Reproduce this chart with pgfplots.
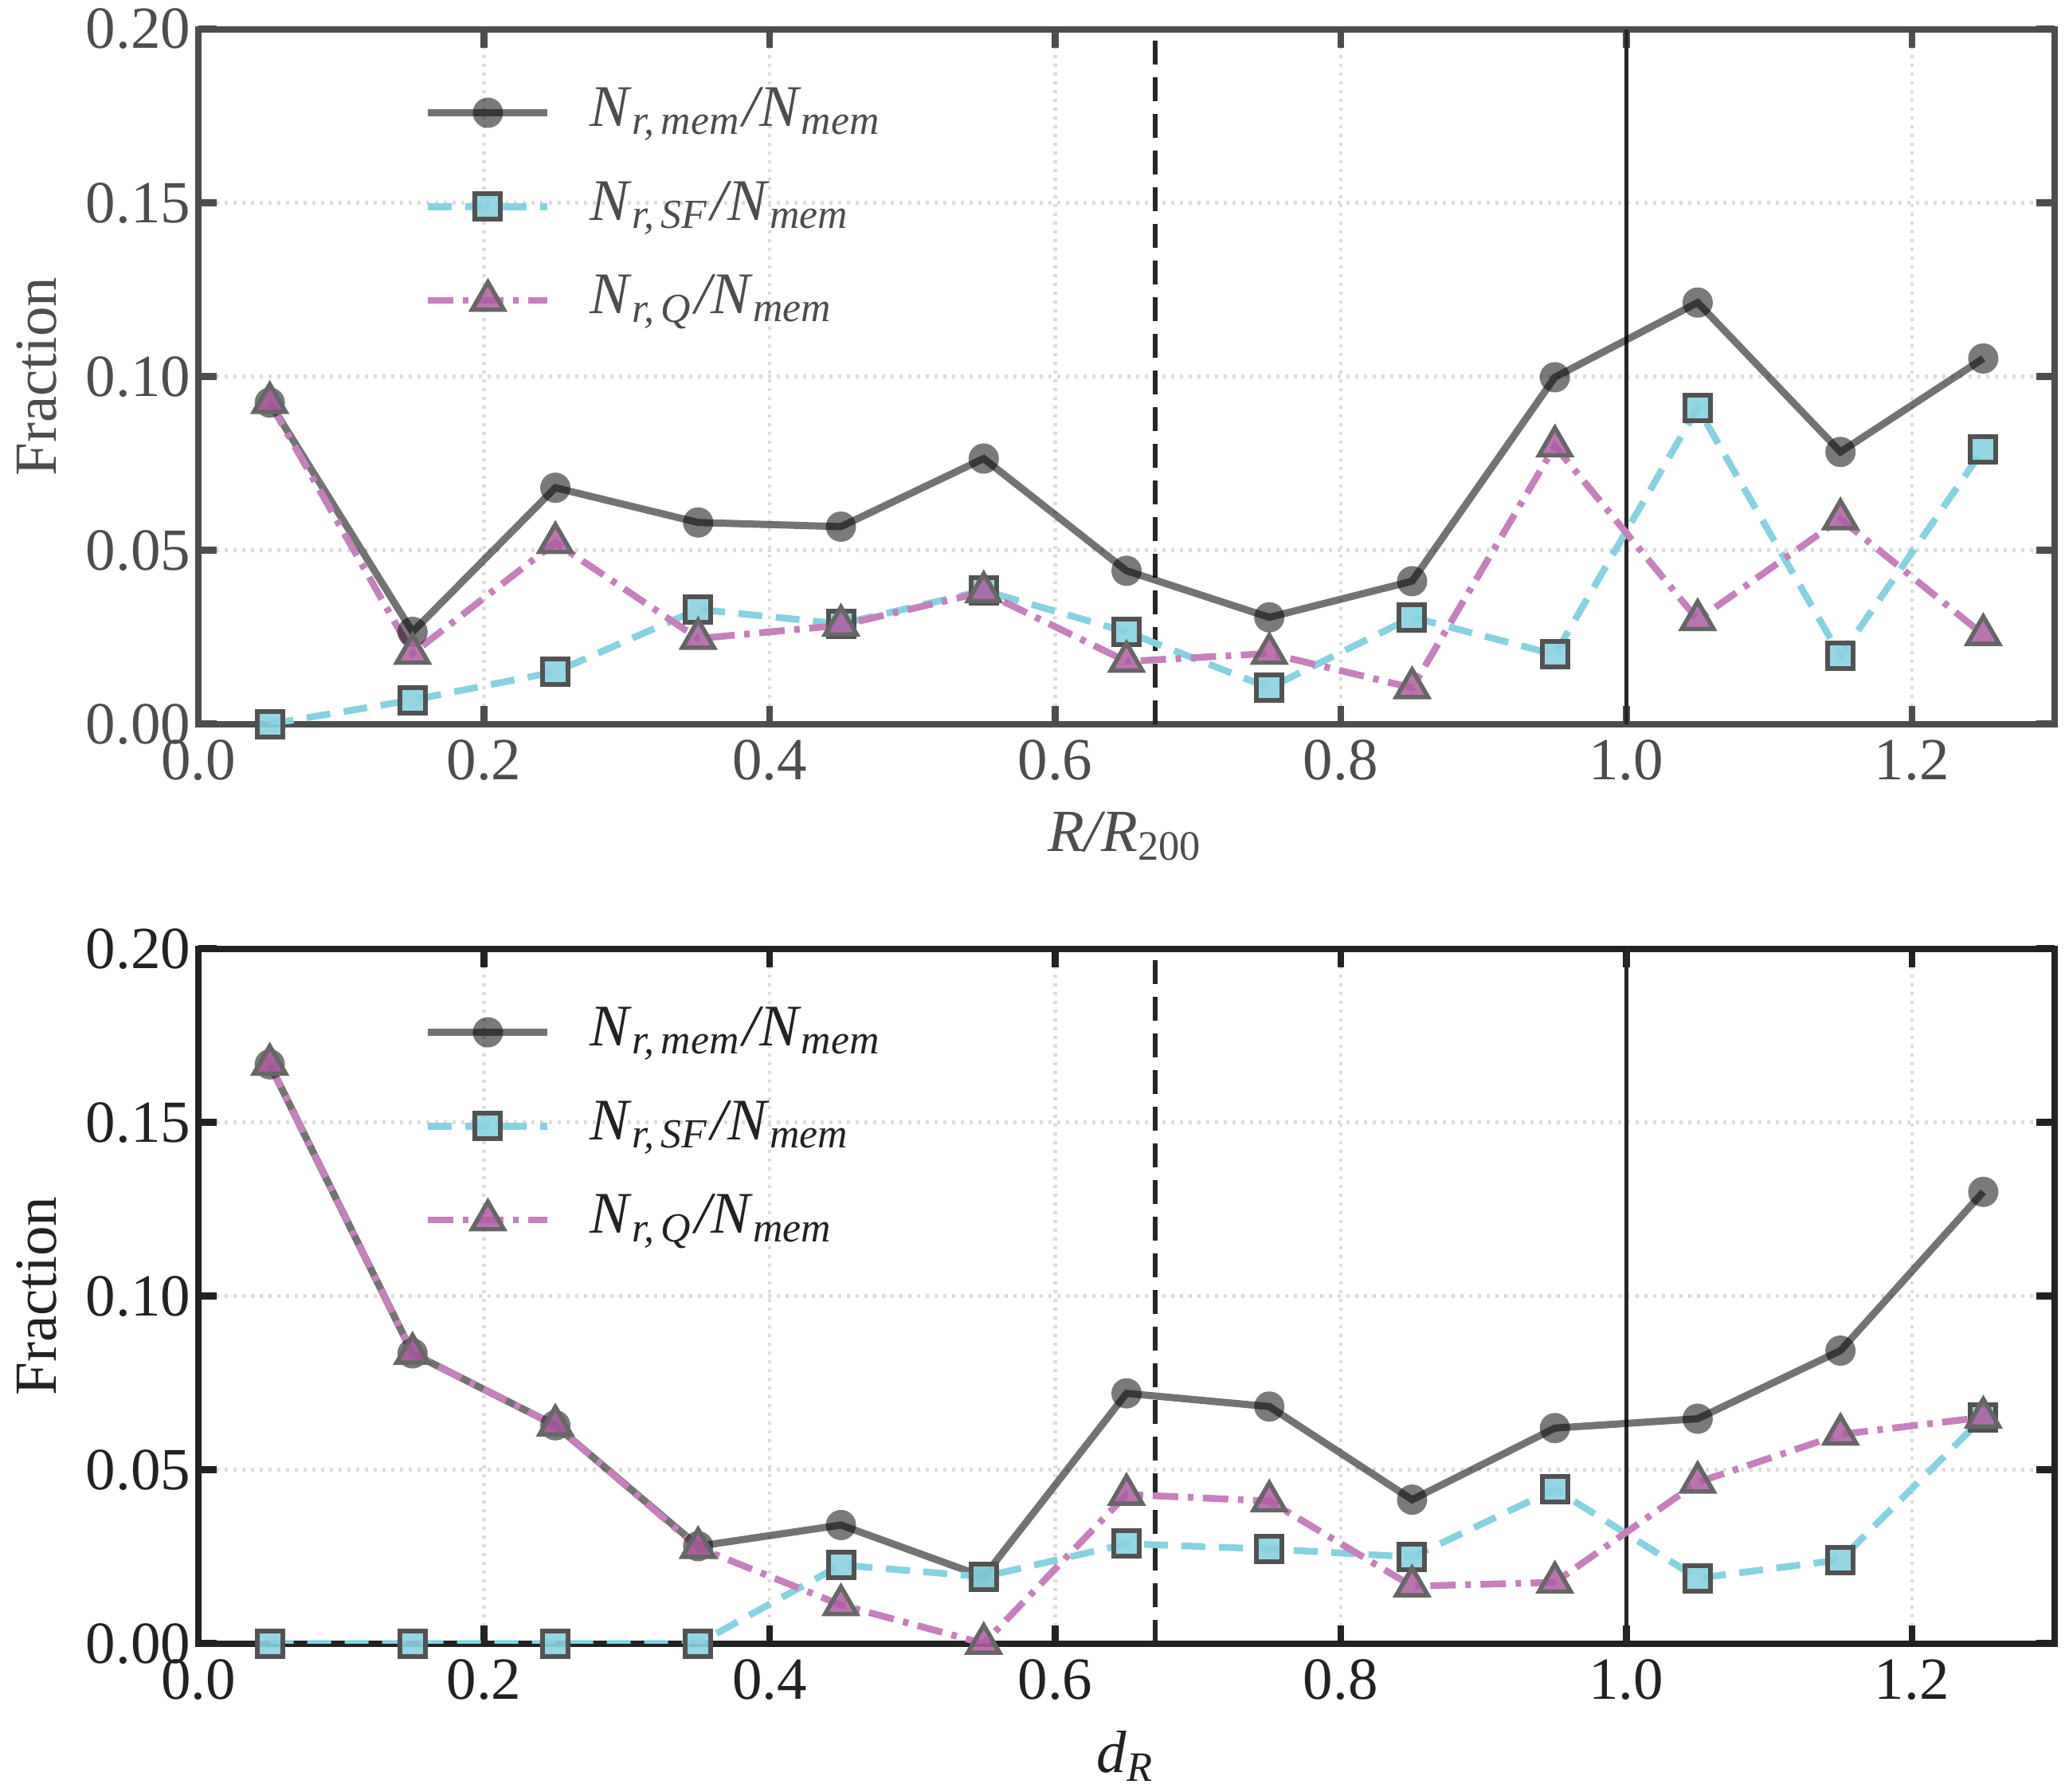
\documentclass[border=0pt]{standalone}
\usepackage{fontspec}
\setmainfont{Liberation Serif}
\usepackage{pgfplots}
\pgfplotsset{compat=1.18}

\definecolor{frameA}{HTML}{4D4D4D}
\definecolor{frameB}{HTML}{222222}
\definecolor{gridc}{HTML}{DCDCDC}
\definecolor{sfc}{HTML}{86D2E0}
\definecolor{sfm}{HTML}{88D2E0}
\definecolor{qc}{HTML}{C680BC}
\definecolor{qm}{HTML}{B05CA3}

\pgfplotsset{
  fracaxis/.style={
    scale only axis, width=233pt, height=87.2pt,
    xmin=0, xmax=1.3, ymin=0, ymax=0.2,
    xtick={0,0.2,0.4,0.6,0.8,1.0,1.2},
    ytick={0,0.05,0.1,0.15,0.2},
    xticklabel style={inner ysep=1.8pt, /pgf/number format/.cd, fixed, fixed zerofill, precision=1},
    yticklabel style={inner ysep=0pt, inner xsep=0.8pt, /pgf/number format/.cd, fixed, fixed zerofill, precision=2},
    /pgf/number format/assume math mode=true,
    tick align=inside, major tick length=2.3pt,
    tick style={line width=0.85pt, color=#1},
    axis line style={line width=0.8pt, color=#1},
    tick label style={text=#1},
    label style={text=#1},
    grid=major, grid style={line width=0.45pt, gridc, dash pattern=on 0.4pt off 0.7pt},
    ylabel=Fraction,
    ylabel style={at={(axis description cs:-0.087,0.5)}, anchor=center},
    xlabel style={at={(axis description cs:0.5,-0.162)}, anchor=center},
    font=\fontsize{7.5}{9}\selectfont,
    legend style={draw=none, fill=none, text=#1, inner sep=0pt,
      at={(axis description cs:0.121,0.93)}, anchor=north west,
      row sep=3.4pt, column sep=3.9pt, nodes={inner sep=1pt},
      font=\fontsize{7.4}{9}\selectfont},
    legend cell align=left,
    legend image code/.code={\draw[mark repeat=2,mark phase=2]
      plot coordinates {(0pt,0pt) (7.5pt,0pt) (15pt,0pt)};},
  },
  memplot/.style={black, draw opacity=0.55, line width=0.9pt, mark=*,
    mark size=1.9pt, mark options={solid, fill=black, draw opacity=0, fill opacity=0.52}},
  sfplot/.style={sfc, line width=0.85pt, dash pattern=on 3pt off 1.7pt, mark=square*,
    mark size=1.6pt, mark options={solid, fill=sfm, fill opacity=0.9, draw=black!68, line width=0.6pt}},
  qplot/.style={qc, line width=0.85pt, dash pattern=on 3.2pt off 1.2pt on 0.7pt off 1.2pt,
    mark=triangle*, mark size=2.3pt,
    mark options={solid, fill=qm, fill opacity=0.85, draw=black!60, line width=0.55pt}},
}

\newcommand{\legmem}{\textit{N}\textsubscript{\textit{r,\,mem}}\textit{/N}\textsubscript{\textit{mem}}}
\newcommand{\legsf}{\textit{N}\textsubscript{\textit{r,\,SF}}\textit{/N}\textsubscript{\textit{mem}}}
\newcommand{\legq}{\textit{N}\textsubscript{\textit{r,\,Q}}\textit{/N}\textsubscript{\textit{mem}}}

\begin{document}
\begin{tikzpicture}
% R/R200
\begin{axis}[fracaxis=frameA, at={(0pt,0pt)},
    xlabel={\textit{R/R}\textsubscript{200}}]
  \addplot[black!85, line width=0.55pt, dash pattern=on 3pt off 1.6pt, forget plot]
    coordinates {(0.67,0) (0.67,0.2)};
  \addplot[black!85, line width=0.55pt, forget plot]
    coordinates {(1.0,0) (1.0,0.2)};
  \addplot[memplot] coordinates {
    (0.05,0.0925) (0.15,0.0265) (0.25,0.0680) (0.35,0.0580) (0.45,0.0568)
    (0.55,0.0764) (0.65,0.0441) (0.75,0.0307) (0.85,0.0411) (0.95,0.0998)
    (1.05,0.1213) (1.15,0.0783) (1.25,0.1052)};
  \addlegendentry{\legmem}
  \addplot[sfplot] coordinates {
    (0.05,0.0000) (0.15,0.0069) (0.25,0.0150) (0.35,0.0330) (0.45,0.0288)
    (0.55,0.0384) (0.65,0.0265) (0.75,0.0104) (0.85,0.0307) (0.95,0.0200)
    (1.05,0.0910) (1.15,0.0196) (1.25,0.0790)};
  \addlegendentry{\legsf}
  \addplot[qplot] coordinates {
    (0.05,0.0925) (0.15,0.0203) (0.25,0.0522) (0.35,0.0246) (0.45,0.0284)
    (0.55,0.0380) (0.65,0.0180) (0.75,0.0203) (0.85,0.0104) (0.95,0.0800)
    (1.05,0.0300) (1.15,0.0590) (1.25,0.0257)};
  \addlegendentry{\legq}
\end{axis}
% d_R
\begin{axis}[fracaxis=frameB, at={(0pt,-115.4pt)},
    xlabel={\textit{d}\textsubscript{\textit{R}}}]
  \addplot[black!85, line width=0.55pt, dash pattern=on 3pt off 1.6pt, forget plot]
    coordinates {(0.67,0) (0.67,0.2)};
  \addplot[black!85, line width=0.55pt, forget plot]
    coordinates {(1.0,0) (1.0,0.2)};
  \addplot[memplot] coordinates {
    (0.05,0.1667) (0.15,0.0835) (0.25,0.0628) (0.35,0.0280) (0.45,0.0341)
    (0.55,0.0192) (0.65,0.0720) (0.75,0.0682) (0.85,0.0414) (0.95,0.0620)
    (1.05,0.0647) (1.15,0.0843) (1.25,0.1300)};
  \addlegendentry{\legmem}
  \addplot[sfplot] coordinates {
    (0.05,0.0000) (0.15,0.0000) (0.25,0.0000) (0.35,0.0000) (0.45,0.0226)
    (0.55,0.0192) (0.65,0.0287) (0.75,0.0272) (0.85,0.0249) (0.95,0.0444)
    (1.05,0.0188) (1.15,0.0241) (1.25,0.0651)};
  \addlegendentry{\legsf}
  \addplot[qplot] coordinates {
    (0.05,0.1667) (0.15,0.0835) (0.25,0.0628) (0.35,0.0276) (0.45,0.0111)
    (0.55,0.0000) (0.65,0.0429) (0.75,0.0410) (0.85,0.0165) (0.95,0.0176)
    (1.05,0.0464) (1.15,0.0602) (1.25,0.0651)};
  \addlegendentry{\legq}
\end{axis}
\pgfresetboundingbox
\path[use as bounding box] (-24.9pt,90.86pt) rectangle (234.3pt,-134pt);
\end{tikzpicture}
\end{document}
